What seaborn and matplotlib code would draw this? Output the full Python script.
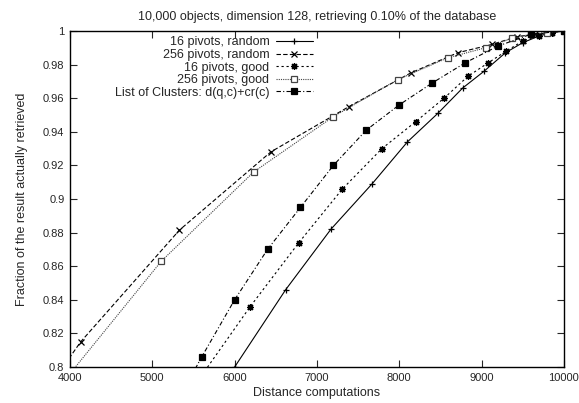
import matplotlib
matplotlib.use("Agg")
import matplotlib.pyplot as plt
import seaborn as sns
import pandas as pd

# values (points below 0.8 / left of 4000 are clipped by the axes)
rand16_x = [6000, 6620, 7170, 7670, 8100, 8470, 8770, 9030, 9290, 9500, 9700, 9850, 10000]
rand16_y = [0.800, 0.846, 0.882, 0.909, 0.934, 0.951, 0.966, 0.976, 0.987, 0.993, 0.997, 0.999, 1.000]

rand256_x = [3800, 4130, 5330, 6440, 7390, 8140, 8710, 9130, 9430, 9650, 9830, 10000]
rand256_y = [0.792, 0.815, 0.8815, 0.928, 0.955, 0.975, 0.987, 0.992, 0.9966, 0.998, 0.999, 1.000]

good16_x = [5600, 6190, 6780, 7310, 7790, 8200, 8545, 8835, 9080, 9300, 9500, 9700, 9850, 10000]
good16_y = [0.795, 0.836, 0.874, 0.906, 0.930, 0.946, 0.960, 0.973, 0.981, 0.988, 0.994, 0.997, 0.999, 1.000]

good256_x = [3900, 5110, 6230, 7200, 7980, 8590, 9050, 9370, 9600, 9800, 10000]
good256_y = [0.790, 0.863, 0.916, 0.949, 0.971, 0.984, 0.990, 0.9956, 0.998, 0.999, 1.000]

loc_x = [5200, 5600, 6000, 6400, 6800, 7200, 7600, 8000, 8400, 8800, 9200, 9600, 10000]
loc_y = [0.770, 0.806, 0.840, 0.870, 0.895, 0.920, 0.941, 0.956, 0.969, 0.981, 0.991, 0.998, 1.000]

x_ticks = [4000, 5000, 6000, 7000, 8000, 9000, 10000]
y_ticks = [0.8, 0.82, 0.84, 0.86, 0.88, 0.9, 0.92, 0.94, 0.96, 0.98, 1.0]
y_tick_labels = ["0.8", "0.82", "0.84", "0.86", "0.88", "0.9", "0.92", "0.94", "0.96", "0.98", "1"]

sns.set_style("ticks")
plt.rcParams["font.family"] = ["Liberation Sans", "DejaVu Sans"]
plt.rcParams["font.size"] = 9

fig = plt.figure(figsize=(5.79, 4.03), dpi=100)
ax = fig.add_axes([0.1209, 0.0893, 0.853, 0.834])

series = [
    ("16 pivots, random", rand16_x, rand16_y, "-", "+", "black", 5, 0.8),
    ("256 pivots, random", rand256_x, rand256_y, (0, (4, 2)), "x", "black", 4.5, 0.8),
    ("16 pivots, good", good16_x, good16_y, (0, (2, 2.5)), (8, 2, 0), "black", 5, 0.8),
    ("256 pivots, good", good256_x, good256_y, (0, (1, 1)), "s", "#444444", 4.5, 0.8),
    ("List of Clusters: d(q,c)+cr(c)", loc_x, loc_y, (0, (4, 2, 1, 2)), "s", "black", 5, 0.8),
]

for label, xs, ys, ls, mk, col, ms, lw in series:
    df = pd.DataFrame({"x": xs, "y": ys})
    face = "white" if (mk == "s" and label.startswith("256")) else col
    sns.lineplot(data=df, x="x", y="y", ax=ax, color=col, linestyle=ls,
                 linewidth=lw, marker=mk, markersize=ms, markerfacecolor=face,
                 markeredgecolor=col, markeredgewidth=0.9, label=label,
                 estimator=None, sort=False)

ax.set_xlim(4000, 10000)
ax.set_ylim(0.8, 1.0)
ax.set_xticks(x_ticks)
ax.set_yticks(y_ticks)
ax.set_yticklabels(y_tick_labels)
ax.tick_params(direction="in", top=True, right=True, length=5, width=0.8,
               labelsize=8, pad=4)
for sp in ax.spines.values():
    sp.set_visible(True)
    sp.set_linewidth(1.0)
    sp.set_color("black")

ax.set_xlabel("Distance computations", fontsize=9, labelpad=3)
ax.set_ylabel("Fraction of the result actually retrieved", fontsize=9, labelpad=11)
ax.set_title("10,000 objects, dimension 128, retrieving 0.10% of the database",
             fontsize=9, pad=8)

ax.legend(loc="upper right", bbox_to_anchor=(0.51, 1.01), markerfirst=False,
          frameon=False, fontsize=9, handlelength=3.0, handletextpad=0.5,
          labelspacing=0.05, borderpad=0.2)

fig.savefig("out.png", dpi=100)
